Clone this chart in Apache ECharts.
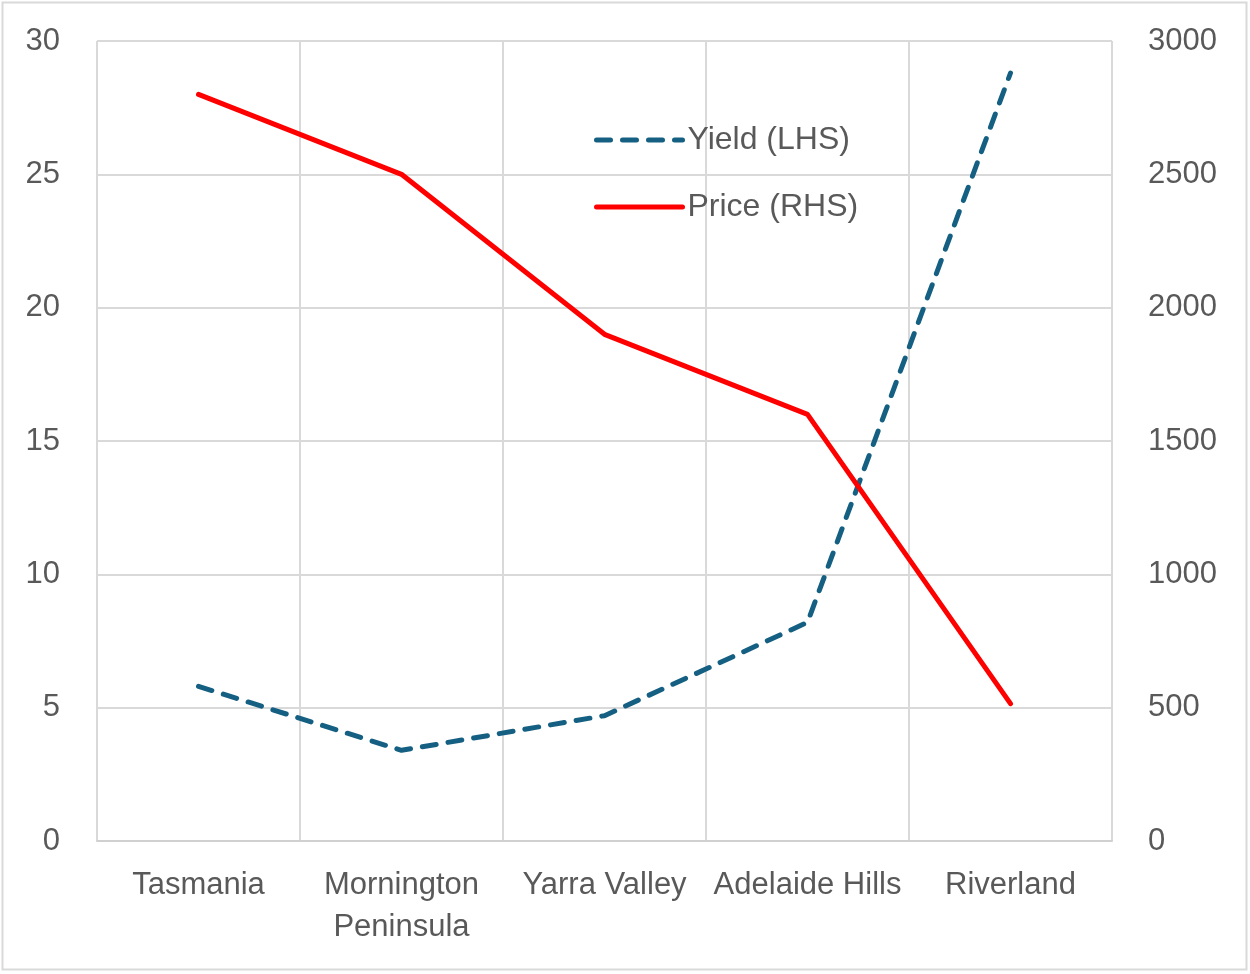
<!DOCTYPE html>
<html>
<head>
<meta charset="utf-8">
<script src="https://cdn.jsdelivr.net/npm/echarts@6/dist/echarts.min.js"></script>
<style>
  html, body { margin: 0; padding: 0; background: #fff; }
  #chart { width: 1250px; height: 974px; }
</style>
</head>
<body>
<div id="chart"></div>
<script>
// regions along the x axis
var regions = ['Tasmania', 'Mornington\nPeninsula', 'Yarra Valley', 'Adelaide Hills', 'Riverland'];
// yield, left axis
var yieldValues = [5.8, 3.4, 4.7, 8.2, 28.8];
// price, right axis
var priceValues = [2800, 2500, 1900, 1600, 515];

var textColor = '#595959';
var gridColor = '#d9d9d9';
var fontFamily = '"Liberation Sans", Arial, sans-serif';

var chart = echarts.init(document.getElementById('chart'), null, { renderer: 'canvas' });

chart.setOption({
	animation: false,
	textStyle: { fontFamily: fontFamily, color: textColor },
	graphic: [{
		type: 'rect',
		shape: { x: 2.5, y: 2.5, width: 1244, height: 967 },
		style: { fill: 'none', stroke: '#d9d9d9', lineWidth: 2 },
		silent: true
	}],
	grid: { left: 97, right: 138, top: 41, bottom: 133, containLabel: false },
	legend: {
		orient: 'vertical',
		left: 589,
		top: 117,
		itemWidth: 86,
		itemHeight: 14,
		itemGap: 31,
		itemStyle: { color: 'rgba(0,0,0,0)', borderColor: 'rgba(0,0,0,0)', borderWidth: 0 },
		lineStyle: { width: 5, cap: 'round' },
		textStyle: { fontSize: 32, lineHeight: 36, color: textColor, fontFamily: fontFamily },
		data: ['Yield (LHS)', 'Price (RHS)']
	},
	xAxis: {
		type: 'category',
		data: regions,
		boundaryGap: true,
		axisLine: { show: true, lineStyle: { color: '#d0d0d0', width: 2 } },
		axisTick: { show: false },
		splitLine: { show: true, lineStyle: { color: gridColor, width: 2 } },
		axisLabel: { fontSize: 31, lineHeight: 42, margin: 23, color: textColor, interval: 0 }
	},
	yAxis: [{
		type: 'value',
		min: 0,
		max: 30,
		interval: 5,
		axisLine: { show: false },
		axisTick: { show: false },
		splitLine: { show: true, lineStyle: { color: gridColor, width: 2 } },
		axisLabel: { fontSize: 31, margin: 37, color: textColor }
	}, {
		type: 'value',
		position: 'right',
		min: 0,
		max: 3000,
		interval: 500,
		axisLine: { show: false },
		axisTick: { show: false },
		splitLine: { show: false },
		axisLabel: {
			fontSize: 31, margin: 36, color: textColor,
			formatter: function (v) { return String(v); }
		}
	}],
	series: [{
		name: 'Yield (LHS)',
		type: 'line',
		yAxisIndex: 0,
		data: yieldValues,
		symbol: 'none',
		lineStyle: { color: '#156082', width: 5, type: [14, 12], cap: 'round' },
		itemStyle: { color: '#156082' }
	}, {
		name: 'Price (RHS)',
		type: 'line',
		yAxisIndex: 1,
		data: priceValues,
		symbol: 'none',
		lineStyle: { color: '#ff0000', width: 5, cap: 'round' },
		itemStyle: { color: '#ff0000' }
	}]
});
</script>
</body>
</html>
